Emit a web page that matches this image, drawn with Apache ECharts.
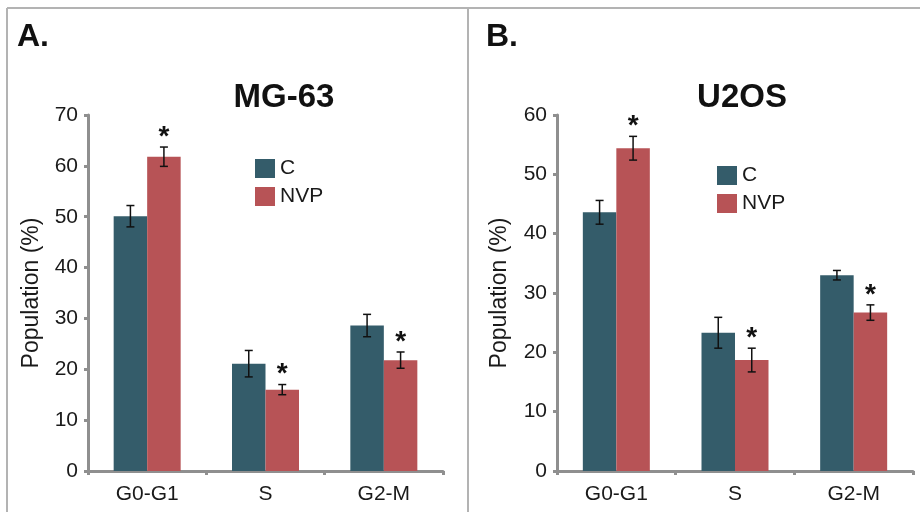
<!DOCTYPE html>
<html>
<head>
<meta charset="utf-8">
<title>Cell cycle MG-63 / U2OS</title>
<script src="https://cdn.jsdelivr.net/npm/echarts@6/dist/echarts.min.js"></script>
<style>
  html, body { margin: 0; padding: 0; background: #fff; }
  #cell-cycle { width: 920px; height: 512px; }
</style>
</head>
<body>
<div id="cell-cycle"></div>
<script>
// phases on the x axis
const phases = ["G0-G1", "S", "G2-M"];

// MG-63 (panel A)
const mgC = [50.1, 21.1, 28.6];
const mgCErr = [2.1, 2.6, 2.2];
const mgNvp = [61.8, 16.0, 21.8];
const mgNvpErr = [1.9, 1.0, 1.6];

// U2OS (panel B)
const uC = [43.6, 23.3, 33.0];
const uCErr = [2.0, 2.6, 0.8];
const uNvp = [54.4, 18.7, 26.7];
const uNvpErr = [2.0, 2.0, 1.3];

const yTicksA = { min: 0, max: 70, interval: 10 };
const yTicksB = { min: 0, max: 60, interval: 10 };

const colorC = "#345c6a";
const colorNvp = "#b75356";
const axisGray = "#8f8f8f";
const barW = 33.5;
const font = "Liberation Sans, Arial, sans-serif";
const txt = 21;

const chart = echarts.init(document.getElementById("cell-cycle"));

// error bar (+ optional asterisk) drawn over each bar
function errorBars(offset, star) {
  return function (params, api) {
    const cat = api.value(0);
    const v = api.value(1);
    const e = api.value(2);
    const x = api.coord([cat, v])[0] + offset;
    const hi = api.coord([cat, v + e])[1];
    const lo = api.coord([cat, v - e])[1];
    const style = { stroke: "#111", lineWidth: 1.5 };
    const children = [
      { type: "line", shape: { x1: x, y1: hi, x2: x, y2: lo }, style: style },
      { type: "line", shape: { x1: x - 4, y1: hi, x2: x + 4, y2: hi }, style: style },
      { type: "line", shape: { x1: x - 4, y1: lo, x2: x + 4, y2: lo }, style: style }
    ];
    if (star) {
      children.push({
        type: "text",
        style: {
          text: "*", x: x, y: hi - 10,
          align: "center", verticalAlign: "middle",
          font: "bold 28px " + font, fill: "#111"
        }
      });
    }
    return { type: "group", children: children };
  };
}

function errData(vals, errs) {
  return vals.map((v, i) => [i, v, errs[i]]);
}

function xAxisFor(idx) {
  return {
    type: "category",
    gridIndex: idx,
    data: phases,
    axisLine: { lineStyle: { color: axisGray, width: 3, cap: "round" } },
    axisTick: { show: true, length: 4, lineStyle: { color: axisGray, width: 3 } },
    axisLabel: { color: "#1a1a1a", fontSize: txt, fontFamily: font, margin: 13 }
  };
}

function yAxisFor(idx, ticks) {
  return {
    type: "value",
    gridIndex: idx,
    min: ticks.min,
    max: ticks.max,
    interval: ticks.interval,
    name: "Population (%)",
    nameLocation: "middle",
    nameGap: idx === 0 ? 45 : 46,
    nameTextStyle: { color: "#1a1a1a", fontSize: 23, fontFamily: font },
    axisLine: { show: true, lineStyle: { color: axisGray, width: 3, cap: "round" } },
    axisTick: { show: true, length: 4, lineStyle: { color: axisGray, width: 3 } },
    axisLabel: { color: "#1a1a1a", fontSize: txt, fontFamily: font, margin: 10 },
    splitLine: { show: false }
  };
}

function barSeries(name, idx, data, color) {
  return {
    name: name,
    type: "bar",
    xAxisIndex: idx,
    yAxisIndex: idx,
    barWidth: barW,
    barGap: "0%",
    itemStyle: { color: color },
    data: data
  };
}

function errSeries(idx, vals, errs, offset, star) {
  return {
    type: "custom",
    xAxisIndex: idx,
    yAxisIndex: idx,
    z: 5,
    silent: true,
    renderItem: errorBars(offset, star),
    data: errData(vals, errs)
  };
}

function legendAt(left, top) {
  return {
    data: ["C", "NVP"], orient: "vertical", left: left, top: top,
    padding: 0,
    icon: "rect", itemWidth: 20, itemHeight: 19, itemGap: 7,
    textStyle: { fontSize: txt, color: "#1a1a1a", fontFamily: font },
    selectedMode: false
  };
}

let option = {
  animation: false,
  backgroundColor: "#fff",
  textStyle: { fontFamily: font },
  title: [
    { text: "MG-63", left: 279, top: 76, textAlign: "center",
      textStyle: { fontSize: 33, fontWeight: "bold", color: "#111", fontFamily: font } },
    { text: "U2OS", left: 737, top: 76, textAlign: "center",
      textStyle: { fontSize: 33, fontWeight: "bold", color: "#111", fontFamily: font } }
  ],
  legend: [legendAt(255, 158), legendAt(717, 165)],
  grid: [
    { left: 88, top: 115, width: 355, height: 356 },
    { left: 557, top: 115, width: 356, height: 356 }
  ],
  xAxis: [xAxisFor(0), xAxisFor(1)],
  yAxis: [yAxisFor(0, yTicksA), yAxisFor(1, yTicksB)],
  series: [
    barSeries("C", 0, mgC, colorC),
    barSeries("NVP", 0, mgNvp, colorNvp),
    barSeries("C", 1, uC, colorC),
    barSeries("NVP", 1, uNvp, colorNvp),
    errSeries(0, mgC, mgCErr, -barW / 2, false),
    errSeries(0, mgNvp, mgNvpErr, barW / 2, true),
    errSeries(1, uC, uCErr, -barW / 2, false),
    errSeries(1, uNvp, uNvpErr, barW / 2, true)
  ],
  graphic: [
    // panel frame
    { type: "line", shape: { x1: 7, y1: 8, x2: 920, y2: 8 }, style: { stroke: "#b3b3b3", lineWidth: 2 } },
    { type: "line", shape: { x1: 7, y1: 8, x2: 7, y2: 512 }, style: { stroke: "#b3b3b3", lineWidth: 2 } },
    { type: "line", shape: { x1: 468, y1: 8, x2: 468, y2: 512 }, style: { stroke: "#b3b3b3", lineWidth: 2 } },
    // panel letters
    { type: "text", left: 17, top: 21, style: { text: "A.", font: "bold 32px " + font, fill: "#111" } },
    { type: "text", left: 486, top: 21, style: { text: "B.", font: "bold 32px " + font, fill: "#111" } }
  ]
};

chart.setOption(option);
</script>
</body>
</html>
